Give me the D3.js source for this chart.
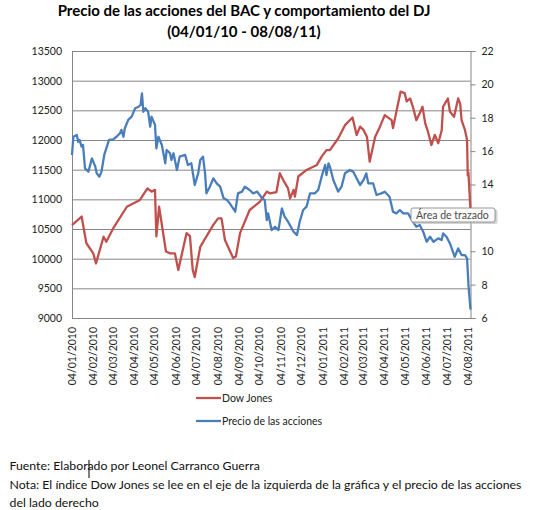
<!DOCTYPE html>
<html lang="es">
  <head>
    <meta charset="utf-8">
    <title>BAC y Dow Jones</title>
    <script type="text/javascript" src="https://cdn.jsdelivr.net/npm/d3@7/dist/d3.min.js"></script>
    <style>
      body { margin: 0; background: #fff; }
      text { font-family: Lato, "Open Sans", sans-serif; }
    </style>
  </head>
  <body>
    <script type="text/javascript">
    // Dow Jones (eje izquierdo)
    var djDates = ["2010-01-04","2010-01-18","2010-01-25","2010-02-04","2010-02-08","2010-02-19","2010-02-23",
      "2010-03-05","2010-03-25","2010-04-13","2010-04-24","2010-04-30","2010-05-05","2010-05-07","2010-05-11",
      "2010-05-21","2010-05-27","2010-06-03","2010-06-08","2010-06-20","2010-06-25","2010-06-29","2010-07-02",
      "2010-07-10","2010-07-19","2010-07-29","2010-08-05","2010-08-10","2010-08-15","2010-08-27","2010-08-31",
      "2010-09-06","2010-09-20","2010-10-05","2010-10-15","2010-10-20","2010-10-29","2010-11-03","2010-11-08",
      "2010-11-15","2010-11-18","2010-11-23","2010-11-25","2010-11-30","2010-12-12","2010-12-27","2011-01-03",
      "2011-01-10","2011-01-15","2011-01-27","2011-02-06","2011-02-17","2011-02-23","2011-02-28","2011-03-05",
      "2011-03-10","2011-03-14","2011-03-22","2011-03-29","2011-04-05","2011-04-15","2011-04-17","2011-04-22",
      "2011-04-28","2011-05-04","2011-05-07","2011-05-12","2011-05-16","2011-05-21","2011-05-26","2011-05-30",
      "2011-06-03","2011-06-07","2011-06-12","2011-06-17","2011-06-22","2011-06-27","2011-06-29","2011-07-06",
      "2011-07-09","2011-07-15","2011-07-21","2011-07-24","2011-07-26","2011-07-31","2011-08-03","2011-08-04",
      "2011-08-05","2011-08-08"];
    var djValues = [10567,10710,10260,10090,9920,10370,10285,
      10510,10875,10990,11185,11130,11160,10375,10875,
      10120,10090,10090,9810,10430,10380,9810,9690,
      10200,10375,10570,10680,10680,10315,10010,10040,
      10430,10820,10960,11130,11100,11120,11440,11325,
      11185,11015,11160,11045,11385,11495,11580,11720,
      11830,11830,12025,12250,12380,12085,12225,12170,
      12055,11635,12055,12225,12420,12335,12200,12480,
      12815,12790,12650,12700,12560,12335,12450,12560,
      12280,12140,11915,12085,11945,12165,12560,12700,
      12480,12390,12700,12610,12335,12165,12000,11400,
      11450,10810];

    // Precio de las acciones BAC (eje derecho)
    var bacDates = ["2010-01-04","2010-01-06","2010-01-11","2010-01-13","2010-01-15","2010-01-18","2010-01-20",
      "2010-01-23","2010-01-28","2010-02-02","2010-02-04","2010-02-07","2010-02-09","2010-02-13","2010-02-16",
      "2010-02-20","2010-02-27","2010-03-05","2010-03-10","2010-03-15","2010-03-17","2010-03-20","2010-03-22",
      "2010-03-27","2010-04-01","2010-04-06","2010-04-11","2010-04-14","2010-04-16","2010-04-18","2010-04-21",
      "2010-04-25","2010-04-28","2010-04-30","2010-05-05","2010-05-07","2010-05-10","2010-05-15","2010-05-20",
      "2010-05-22","2010-05-27","2010-05-29","2010-06-01","2010-06-06","2010-06-10","2010-06-18","2010-06-22",
      "2010-06-27","2010-07-02","2010-07-07","2010-07-10","2010-07-14","2010-07-17","2010-07-19","2010-07-24",
      "2010-07-29","2010-08-03","2010-08-08","2010-08-13","2010-08-18","2010-08-22","2010-08-30","2010-09-03",
      "2010-09-09","2010-09-13","2010-09-20","2010-09-25","2010-10-01","2010-10-08","2010-10-12","2010-10-15",
      "2010-10-17","2010-10-22","2010-10-27","2010-11-01","2010-11-06","2010-11-10","2010-11-15","2010-11-23",
      "2010-11-28","2010-12-02","2010-12-07","2010-12-12","2010-12-17","2010-12-24","2010-12-29","2011-01-03",
      "2011-01-08","2011-01-10","2011-01-13","2011-01-15","2011-01-20","2011-01-27","2011-02-01","2011-02-06",
      "2011-02-13","2011-02-18","2011-02-23","2011-02-28","2011-03-05","2011-03-09","2011-03-12","2011-03-19",
      "2011-03-24","2011-03-31","2011-04-05","2011-04-12","2011-04-17","2011-04-22","2011-04-27","2011-05-02",
      "2011-05-09","2011-05-16","2011-05-21","2011-05-26","2011-05-31","2011-06-05","2011-06-10","2011-06-15",
      "2011-06-22","2011-06-27","2011-06-29","2011-07-04","2011-07-09","2011-07-16","2011-07-21","2011-07-26",
      "2011-07-31","2011-08-03","2011-08-04","2011-08-05","2011-08-08"];
    var bacValues = [15.77,16.86,16.97,16.56,16.67,16.27,16.37,
      14.97,14.77,15.57,15.37,15.07,14.67,14.47,14.77,
      15.77,16.67,16.70,16.86,17.07,17.27,16.86,17.37,
      17.87,18.07,18.57,18.66,18.77,19.46,18.36,18.57,
      18.36,17.47,18.07,17.57,16.17,16.86,16.37,15.27,
      16.07,15.87,15.47,15.87,14.87,15.67,15.77,15.17,
      15.27,13.97,14.67,15.47,15.67,14.67,13.47,13.87,
      14.37,14.07,13.87,13.18,13.07,12.87,12.37,13.47,
      13.57,13.87,13.67,13.47,13.57,13.18,13.07,11.87,
      12.27,11.27,11.47,11.27,12.57,12.07,11.77,11.17,
      10.97,11.77,12.47,12.67,13.47,13.47,13.67,14.47,
      15.17,14.57,15.27,15.07,14.27,13.57,13.87,14.67,
      14.87,14.77,14.37,13.97,14.27,14.67,14.07,14.07,
      13.37,13.47,13.57,13.27,12.37,12.27,12.47,12.27,
      12.27,11.77,11.47,11.57,11.17,10.57,10.87,10.57,
      10.77,10.67,11.07,10.87,10.47,9.67,10.17,9.77,
      9.77,9.57,8.80,8.00,6.50];

    // ticks y etiquetas
    var xTickDates = ["2010-01-04","2010-02-04","2010-03-04","2010-04-04","2010-05-04","2010-06-04","2010-07-04",
      "2010-08-04","2010-09-04","2010-10-04","2010-11-04","2010-12-04","2011-01-04","2011-02-04","2011-03-04",
      "2011-04-04","2011-05-04","2011-06-04","2011-07-04","2011-08-04"];
    var leftTicks = [9000,9500,10000,10500,11000,11500,12000,12500,13000,13500];
    var rightTicks = [6,8,10,12,14,16,18,20,22];
    var seriesNames = ["Dow Jones", "Precio de las acciones"];
    var titleLines = ["Precio de las acciones del BAC y comportamiento del DJ", "(04/01/10 - 08/08/11)"];
    var footerLines = ["Fuente: Elaborado por Leonel Carranco Guerra",
      "Nota: El índice Dow Jones se lee en el eje de la izquierda de la gráfica y el precio de las acciones",
      "del lado derecho"];

    var w = 545;
    var h = 510;
    // area de trazado
    var plotLeft = 72, plotRight = 470.5, plotTop = 51, plotBottom = 318;
    var red = "#c0504d", blue = "#4a7ebb", axisGray = "#868686";

    var parseDate = d3.timeParse("%Y-%m-%d");
    var dj = djDates.map(function(d, i) { return { date: parseDate(d), value: djValues[i] }; });
    var bac = bacDates.map(function(d, i) { return { date: parseDate(d), value: bacValues[i] }; });

    var svg = d3.select("body")
                .append("svg")
                .attr("width", w)
                .attr("height", h);

    var xScale = d3.scaleTime()
                   .domain([parseDate("2010-01-04"), parseDate("2011-08-08")])
                   .range([plotLeft, plotRight]);
    var yLeft = d3.scaleLinear().domain([9000, 13500]).range([plotBottom, plotTop]);
    var yRight = d3.scaleLinear().domain([6, 22]).range([plotBottom, plotTop]);

    // titulo
    svg.selectAll(".title")
       .data(titleLines)
       .enter()
       .append("text")
       .attr("class", "title")
       .attr("x", 244)
       .attr("y", function(d, i) { return 16 + i * 21; })
       .attr("text-anchor", "middle")
       .attr("font-size", 15)
       .attr("font-weight", "bold")
       .attr("fill", "#000")
       .text(function(d) { return d; });

    // lineas de cuadricula (eje izquierdo)
    svg.append("g")
       .attr("transform", "translate(" + plotLeft + ",0)")
       .call(d3.axisLeft(yLeft).tickValues(leftTicks).tickSize(-(plotRight - plotLeft)).tickPadding(10).tickFormat(d3.format("d")))
       .call(function(g) {
         g.select(".domain").attr("stroke", axisGray);
         g.selectAll(".tick line").attr("stroke", axisGray);
         g.selectAll(".tick text").attr("font-size", 10.5).attr("fill", "#222").attr("font-family", "Lato, sans-serif");
       });

    // eje derecho
    svg.append("g")
       .attr("transform", "translate(" + plotRight + ",0)")
       .call(d3.axisRight(yRight).tickValues(rightTicks).tickSize(5).tickPadding(6))
       .call(function(g) {
         g.select(".domain").attr("stroke", axisGray);
         g.selectAll(".tick line").attr("stroke", axisGray);
         g.selectAll(".tick text").attr("font-size", 10.5).attr("fill", "#222").attr("font-family", "Lato, sans-serif");
       });

    // eje x
    svg.append("g")
       .attr("transform", "translate(0," + plotBottom + ")")
       .call(d3.axisBottom(xScale).tickValues(xTickDates.map(parseDate)).tickSize(0).tickFormat(d3.timeFormat("%d/%m/%Y")))
       .call(function(g) {
         g.select(".domain").attr("stroke", axisGray);
         g.selectAll(".tick text")
          .attr("font-size", 10.5)
          .attr("fill", "#222")
          .attr("font-family", "Lato, sans-serif")
          .attr("text-anchor", "end")
          .attr("transform", "rotate(-90)")
          .attr("x", -9)
          .attr("y", 0)
          .attr("dy", "0.35em");
       });

    // series
    var djLine = d3.line().x(function(d) { return xScale(d.date); }).y(function(d) { return yLeft(d.value); });
    var bacLine = d3.line().x(function(d) { return xScale(d.date); }).y(function(d) { return yRight(d.value); });

    svg.append("path")
       .datum(dj)
       .attr("d", djLine)
       .attr("fill", "none")
       .attr("stroke", red)
       .attr("stroke-width", 2.3)
       .attr("stroke-linejoin", "round");

    svg.append("path")
       .datum(bac)
       .attr("d", bacLine)
       .attr("fill", "none")
       .attr("stroke", blue)
       .attr("stroke-width", 2.3)
       .attr("stroke-linejoin", "round");

    // leyenda
    var legend = svg.selectAll(".legend")
       .data(seriesNames)
       .enter()
       .append("g")
       .attr("class", "legend")
       .attr("transform", function(d, i) { return "translate(196," + (398 + i * 23) + ")"; });
    legend.append("line")
       .attr("x1", 0).attr("x2", 25).attr("y1", 0).attr("y2", 0)
       .attr("stroke", function(d, i) { return i === 0 ? red : blue; })
       .attr("stroke-width", 2.3);
    legend.append("text")
       .attr("x", 26)
       .attr("y", 4)
       .attr("font-size", 10.5)
       .attr("fill", "#222")
       .text(function(d) { return d; });

    // etiqueta emergente "Area de trazado" (tapa la etiqueta 12 como en el original)
    var tip = svg.append("g").attr("transform", "translate(411,208)");
    tip.append("rect")
       .attr("x", 1.5).attr("y", 1.5).attr("width", 85).attr("height", 14.5).attr("rx", 2)
       .attr("fill", "#b8b8b8").attr("opacity", 0.6);
    tip.append("rect")
       .attr("width", 84).attr("height", 14).attr("rx", 2)
       .attr("fill", "#fbfbfb").attr("stroke", "#808080").attr("stroke-width", 0.8);
    tip.append("text")
       .attr("x", 5).attr("y", 10.5)
       .attr("font-size", 10.5)
       .attr("fill", "#4c4c4c")
       .text("Área de trazado");

    // pie de pagina
    svg.selectAll(".footer")
       .data(footerLines)
       .enter()
       .append("text")
       .attr("class", "footer")
       .attr("x", 9.5)
       .attr("y", function(d, i) { return 470 + i * 18.5; })
       .attr("font-size", 12.3)
       .attr("fill", "#111")
       .text(function(d) { return d; });

    // cursor de texto
    svg.append("line")
       .attr("x1", 89).attr("x2", 89).attr("y1", 460).attr("y2", 478)
       .attr("stroke", "#000").attr("stroke-width", 1);
    </script>
  </body>
</html>
